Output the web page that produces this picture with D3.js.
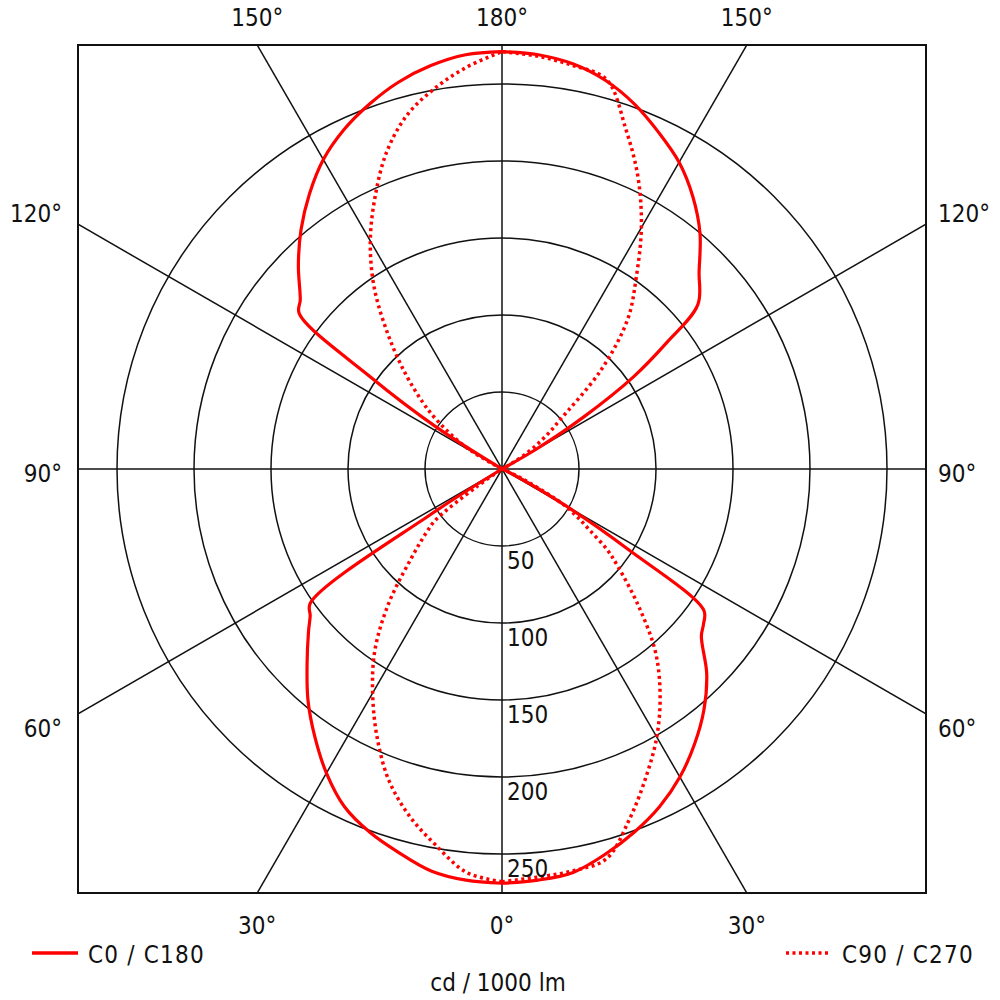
<!DOCTYPE html>
<html>
<head>
<meta charset="utf-8">
<script src="https://cdn.jsdelivr.net/npm/d3@7"></script>
<style>
  html, body { margin: 0; padding: 0; background: #fff; }
  svg text { font-family: "DejaVu Sans Condensed", "DejaVu Sans", sans-serif; font-stretch: condensed; font-size: 24px; fill: #111; }
  svg text.legend { letter-spacing: 1.2px; }
</style>
</head>
<body>
<svg id="chart" width="1000" height="1000"></svg>
<script>
// gamma angles (deg, 0 = straight down, 180 = straight up)
const gammas = [0, 5, 10, 15, 20, 25, 30, 35, 40, 45, 50, 52.5, 55, 57.5, 60,
    65, 70, 75, 80, 85, 90, 95, 100, 105, 110, 115, 120,
    122.5, 125, 127.5, 130, 135, 140, 145, 150, 155, 160, 165, 170, 175, 180];

// cd / 1000 lm, right half of the diagram
const c0 = [269, 268, 266, 259, 251, 242, 231, 218, 204, 188, 169, 165, 160, 97, 48,
    5, 0, 0, 0, 0, 0, 0, 0, 0, 0, 0, 25,
    63, 104, 135, 166, 181, 200, 216, 230, 241, 252, 261, 267, 270, 271];
const c90 = [268, 266, 265, 262, 242, 221, 201, 179, 155, 125, 98, 86, 70, 58, 46,
    12, 0, 0, 0, 0, 0, 0, 0, 0, 0, 0, 8,
    18, 28, 38, 48, 91, 127, 152, 181, 209, 235, 262, 266, 269, 271];

// left half of the diagram
const c180 = [269, 268, 265, 258, 251, 242, 228, 212, 196, 179, 164, 157, 152, 55, 0,
    0, 0, 0, 0, 0, 0, 0, 0, 0, 0, 0, 0,
    50, 105, 166, 171, 187, 203, 218, 232, 243, 252, 260, 266, 270, 271];
const c270 = [268, 263, 248, 233, 215, 192, 168, 144, 115, 85, 64, 54, 20, 0, 0,
    0, 0, 0, 0, 0, 0, 0, 0, 0, 0, 0, 20,
    33, 44, 56, 67, 90, 116, 145, 171, 195, 219, 238, 251, 262, 271];

const ringValues = [50, 100, 150, 200, 250];
const spokeAngles = [0, 30, 60, 90, 120, 150];

let svg = d3.select("#chart");
let cx = 502, cy = 469, half = 424;

let rScale = d3.scaleLinear().domain([0, 250]).range([0, 385]);
let rad = d => d * Math.PI / 180;

svg.append("defs").append("clipPath").attr("id", "frameClip")
    .append("rect")
    .attr("x", cx - half).attr("y", cy - half)
    .attr("width", 2 * half).attr("height", 2 * half);

let grid = svg.append("g").attr("clip-path", "url(#frameClip)");

// rings
grid.selectAll("circle.ring")
    .data(ringValues)
    .enter()
    .append("circle")
    .attr("class", "ring")
    .attr("cx", cx).attr("cy", cy)
    .attr("r", d => rScale(d))
    .attr("fill", "none")
    .attr("stroke", "#111")
    .attr("stroke-width", 1.5);

// spokes through the centre
grid.selectAll("line.spoke")
    .data(spokeAngles)
    .enter()
    .append("line")
    .attr("class", "spoke")
    .attr("x1", d => cx - 900 * Math.sin(rad(d)))
    .attr("y1", d => cy + 900 * Math.cos(rad(d)))
    .attr("x2", d => cx + 900 * Math.sin(rad(d)))
    .attr("y2", d => cy - 900 * Math.cos(rad(d)))
    .attr("stroke", "#111")
    .attr("stroke-width", 1.5);

// frame
svg.append("rect")
    .attr("x", cx - half).attr("y", cy - half)
    .attr("width", 2 * half).attr("height", 2 * half)
    .attr("fill", "none")
    .attr("stroke", "#111")
    .attr("stroke-width", 2);

// curves: lineRadial angle is clockwise from 12 o'clock
function curvePath(values, side) {
    let pts = gammas.map((g, i) => [g, values[i]]);
    let gen = d3.lineRadial()
        .angle(d => side > 0 ? Math.PI - rad(d[0]) : Math.PI + rad(d[0]))
        .radius(d => rScale(d[1]))
        .curve(d3.curveCatmullRom.alpha(0.5));
    return gen(pts);
}

let curves = svg.append("g").attr("transform", `translate(${cx},${cy})`);

let series = [
    {vals: c0, side: 1, dash: null},
    {vals: c180, side: -1, dash: null},
    {vals: c90, side: 1, dash: "3,3.5"},
    {vals: c270, side: -1, dash: "3,3.5"}
];

curves.selectAll("path")
    .data(series)
    .enter()
    .append("path")
    .attr("d", d => curvePath(d.vals, d.side))
    .attr("fill", "none")
    .attr("stroke", "#ff0000")
    .attr("stroke-width", d => d.dash ? 3.5 : 3.2)
    .attr("stroke-linejoin", "round")
    .attr("stroke-dasharray", d => d.dash);

// angle labels
let edge = half * Math.tan(rad(30));
let topLabels = [{t: "150°", x: cx - edge}, {t: "180°", x: cx}, {t: "150°", x: cx + edge}];
let bottomLabels = [{t: "30°", x: cx - edge}, {t: "0°", x: cx}, {t: "30°", x: cx + edge}];
let sideLabels = [{t: "120°", y: cy - 247}, {t: "90°", y: cy + 13}, {t: "60°", y: cy + 268}];

svg.selectAll("text.top")
    .data(topLabels).enter().append("text")
    .attr("class", "top")
    .attr("x", d => d.x).attr("y", 26)
    .attr("text-anchor", "middle")
    .text(d => d.t);

svg.selectAll("text.bottom")
    .data(bottomLabels).enter().append("text")
    .attr("class", "bottom")
    .attr("x", d => d.x).attr("y", 934)
    .attr("text-anchor", "middle")
    .text(d => d.t);

svg.selectAll("text.left")
    .data(sideLabels).enter().append("text")
    .attr("class", "left")
    .attr("x", 62).attr("y", d => d.y)
    .attr("text-anchor", "end")
    .text(d => d.t);

svg.selectAll("text.right")
    .data(sideLabels).enter().append("text")
    .attr("class", "right")
    .attr("x", 938).attr("y", d => d.y)
    .attr("text-anchor", "start")
    .text(d => d.t);

// ring value labels
svg.selectAll("text.ringlabel")
    .data(ringValues).enter().append("text")
    .attr("class", "ringlabel")
    .attr("x", cx + 5)
    .attr("y", d => cy + rScale(d) + 23)
    .text(d => d);

// legend
svg.append("line")
    .attr("x1", 32).attr("x2", 78).attr("y1", 953).attr("y2", 953)
    .attr("stroke", "#ff0000").attr("stroke-width", 3.5);
svg.append("text").attr("class", "legend").attr("x", 88).attr("y", 963).text("C0 / C180");

svg.append("line")
    .attr("x1", 786).attr("x2", 829).attr("y1", 953).attr("y2", 953)
    .attr("stroke", "#ff0000").attr("stroke-width", 3.5)
    .attr("stroke-dasharray", "3,3.5");
svg.append("text").attr("class", "legend").attr("x", 842).attr("y", 963).text("C90 / C270");

svg.append("text")
    .attr("x", 498).attr("y", 991)
    .attr("text-anchor", "middle")
    .text("cd / 1000 lm");
</script>
</body>
</html>
